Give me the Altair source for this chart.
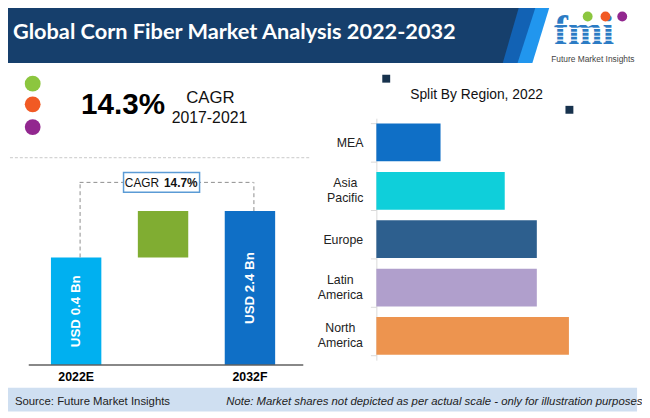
import altair as alt
import pandas as pd

# ---------------- data ----------------
title_text = "Global Corn  Fiber Market  Analysis 2022-2032"
hist_cagr = "14.3%"
hist_cagr_word = "CAGR"
hist_period = "2017-2021"
fc_cagr_word = "CAGR"
fc_cagr = "14.7%"
years = ["2022E", "2032F"]
market_bn = [0.4, 2.4]
bar_labels = ["USD 0.4 Bn", "USD 2.4 Bn"]
increment_label = "Incremental"
regions = ["MEA", "Asia Pacific", "Europe", "Latin America", "North America"]
region_share = [20, 40, 50, 50, 60]
region_title = "Split By Region, 2022"
source_text = "Source: Future Market Insights"
note_text = "Note: Market shares not depicted as per actual scale - only for illustration purposes"
logo_text = "fmi"
logo_sub = "Future Market Insights"

# ---------------- styles ----------------
F = "Liberation Sans"
FT = "Lato"
W, H = 642, 410
LOG_FLOOR = 0.00625          # "not to scale" illustration scale floor
year_colors = ["#00b0f0", "#0f6fc6"]
inc_color = "#80ad32"
region_colors = ["#0f6fc6", "#0fcfda", "#2d5f8e", "#b09fcc", "#ed944f"]
dot_colors = ["#8cc63f", "#f15a24", "#92278f"]


def one():
    return pd.DataFrame({"k": [0]})


def txt(text, x, y, size, color="#111111", weight="normal", align="left",
        font=F, style="normal", baseline="alphabetic"):
    return alt.Chart(one()).mark_text(
        text=text, font=font, fontSize=size, fontWeight=weight, color=color,
        align=align, baseline=baseline, fontStyle=style
    ).encode(x=alt.value(x), y=alt.value(y))


def poly(path, color):
    return alt.Chart(one()).mark_point(
        shape=path, size=4, filled=True, fill=color, strokeWidth=0, opacity=1
    ).encode(x=alt.value(0), y=alt.value(0))


def box(x, x2, y, y2, fill, stroke=None, sw=0):
    kw = dict(fill=fill, strokeWidth=sw)
    if stroke:
        kw["stroke"] = stroke
    return alt.Chart(one()).mark_rect(**kw).encode(
        x=alt.value(x), x2=alt.value(x2), y=alt.value(y), y2=alt.value(y2))


def dot(x, y, size, color):
    return alt.Chart(one()).mark_circle(size=size, color=color, opacity=1).encode(
        x=alt.value(x), y=alt.value(y))


layers = []

# ---------------- header ----------------
layers.append(poly("M-2,-9 L520,-9 L502,53 L-2,53 Z", "#163f6c"))
layers.append(poly("M519,-9 L537,-9 L517,53 L501,53 Z", "#1262b4"))
layers.append(poly("M536,-9 L550,-9 L531,53 L516,53 Z", "#2196ee"))
layers.append(txt(title_text, 5, 29, 22, color="white", weight="bold", font=FT))

# logo
layers.append(txt(logo_text, 553, 34, 42, color="#2b7bc4", weight="bold", font="Liberation Serif"))
for yy in [14, 18, 22, 26, 30]:
    layers.append(alt.Chart(one()).mark_rule(color="white", strokeWidth=1.2).encode(
        x=alt.value(548), x2=alt.value(640), y=alt.value(yy)))
for cx, c in zip([587, 605, 622], dot_colors):
    layers.append(dot(cx, 6, 100, c))
layers.append(txt(logo_sub, 550, 52, 8.5, color="#444444"))

# ---------------- historical CAGR ----------------
for cy, c in zip([74, 95, 118], dot_colors):
    layers.append(dot(25, cy, 256, c))
layers.append(txt(hist_cagr, 74, 105, 30, color="#000000", weight="bold"))
layers.append(txt(hist_cagr_word, 205, 94, 17, align="center"))
layers.append(txt(hist_period, 204, 114, 16, align="center"))
layers.append(alt.Chart(one()).mark_rule(color="#c8c8c8", strokeDash=[3, 2], strokeWidth=1).encode(
    x=alt.value(-8), x2=alt.value(305), y=alt.value(149)))

# ---------------- left bar chart ----------------
left_x = alt.Scale(type="band", domain=[years[0], increment_label, years[1]],
                   range=[25, 289], paddingInner=0.42, paddingOuter=0.21)
left_y = alt.Scale(type="log", domain=[LOG_FLOOR, market_bn[1]], range=[359, 203],
                   nice=False, zero=False)
bars_df = pd.DataFrame({"year": years, "value": market_bn, "label": bar_labels})
inc_df = pd.DataFrame({"step": [increment_label], "start": [market_bn[0]], "end": [market_bn[1]]})

base_left = alt.Chart(bars_df)
layers.append(base_left.mark_bar().encode(
    x=alt.X("year:N", scale=left_x, axis=None),
    y=alt.Y("value:Q", scale=left_y, axis=None),
    y2=alt.datum(LOG_FLOOR),
    color=alt.Color("year:N", scale=alt.Scale(domain=years, range=year_colors), legend=None),
))
layers.append(alt.Chart(inc_df).mark_bar(color=inc_color).encode(
    x=alt.X("step:N", scale=left_x, axis=None),
    y=alt.Y("start:Q", scale=left_y, axis=None),
    y2="end:Q",
))
# bracket
layers.append(base_left.mark_rule(color="#8c8c8c", strokeDash=[4, 3], strokeWidth=1, xOffset=4).encode(
    x=alt.X("year:N", scale=left_x, axis=None),
    y=alt.Y("value:Q", scale=left_y, axis=None),
    y2=alt.value(174),
))
layers.append(alt.Chart(one()).mark_rule(color="#8c8c8c", strokeDash=[4, 3], strokeWidth=1).encode(
    x=alt.value(72.5), x2=alt.value(248.5), y=alt.value(174)))
layers.append(box(117, 194, 164, 184, "white", stroke="#5b9bd5", sw=1.5))
layers.append(txt(fc_cagr_word, 153, 179, 12, color="#111111", align="right"))
layers.append(txt(fc_cagr, 158, 179, 12, color="#111111", weight="bold", align="left"))
# value labels inside bars
layers.append(base_left.transform_calculate(
    mid=f"sqrt(datum.value * {LOG_FLOOR})"
).mark_text(angle=270, color="white", font=F, fontSize=13.5, fontWeight="bold",
            align="center", baseline="middle").encode(
    x=alt.X("year:N", scale=left_x, axis=None),
    y=alt.Y("mid:Q", scale=left_y, axis=None),
    text="label:N",
))
# baseline + category labels
layers.append(alt.Chart(one()).mark_rule(color="#606060", strokeWidth=1.5).encode(
    x=alt.value(21), x2=alt.value(299), y=alt.value(359)))
layers.append(base_left.mark_text(font=F, fontSize=12.5, fontWeight="bold", color="#000000",
                                  baseline="alphabetic").encode(
    x=alt.X("year:N", scale=left_x, axis=None),
    y=alt.value(375),
    text="year:N",
))

# ---------------- region bar chart ----------------
reg_df = pd.DataFrame({"region": regions, "share": region_share})
reg_x = alt.Scale(domain=[0, 60], range=[373, 568], nice=False, zero=True)
reg_y = alt.Scale(type="band", domain=regions, range=[109, 354], paddingInner=0.22, paddingOuter=0.11)
pad_expr = ("datum.label == 'MEA' ? 21 : datum.label == 'Asia Pacific' ? 26 : "
            "datum.label == 'Europe' ? 28 : 31")
layers.append(alt.Chart(reg_df).mark_bar().encode(
    x=alt.X("share:Q", scale=reg_x, axis=None),
    y=alt.Y("region:N", scale=reg_y, axis=alt.Axis(
        orient="left", offset=-373, title=None, domainColor="#d9d9d9", tickColor="#d9d9d9",
        tickSize=6, tickBand="extent", labelExpr="split(datum.label, ' ')",
        labelFont=F, labelFontSize=12.5, labelColor="#222222",
        labelAlign="center", labelPadding={"expr": pad_expr},
        labelLineHeight=15, grid=False,
        labelOffset={"expr": "indexof(datum.label, ' ') > 0 ? -8 : 0"})),
    color=alt.Color("region:N", scale=alt.Scale(domain=regions, range=region_colors), legend=None),
))
for (cx, cy) in [(383, 69), (568.5, 100.5)]:
    layers.append(alt.Chart(one()).mark_square(size=64, color="#17324d", opacity=1).encode(
        x=alt.value(cx), y=alt.value(cy)))
layers.append(txt(region_title, 474.5, 90, 14, align="center"))

# ---------------- footer ----------------
layers.append(box(-3, 637, 382, 406, "#cfdff1"))
layers.append(txt(source_text, 7, 399, 11.5, color="#222222"))
layers.append(txt(note_text, 221, 399, 11.5, color="#222222", style="italic"))

chart = alt.layer(*layers).resolve_scale(
    x="independent", y="independent", color="independent"
).properties(
    width=W, height=H, padding=0, autosize=alt.AutoSizeParams(type="none")
).configure_view(stroke=None)

chart.save("out.html", embed_options={"renderer": "svg", "actions": False})
